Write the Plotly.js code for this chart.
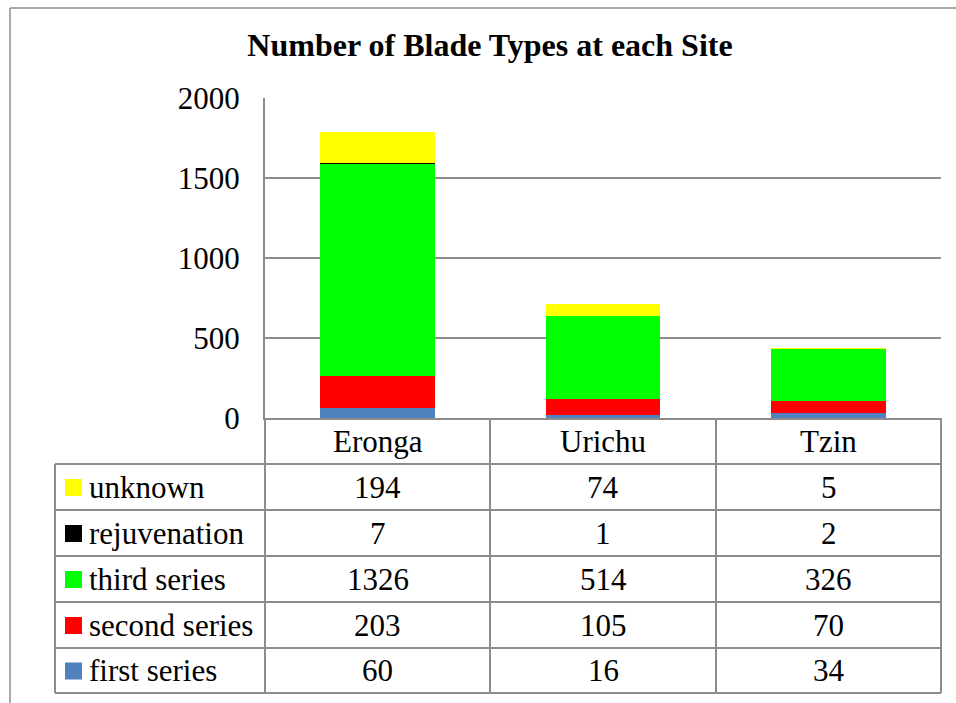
<!DOCTYPE html>
<html>
<head>
<meta charset="utf-8">
<script src="https://cdn.plot.ly/plotly-3.0.1.min.js"></script>
<style>html,body{margin:0;padding:0;background:#fff;}#chart{width:956px;height:703px;}</style>
</head>
<body>
<div id="chart"></div>
<script>
const sites = ['Eronga', 'Urichu', 'Tzin'];
const seriesNames = ['first series', 'second series', 'third series', 'rejuvenation', 'unknown'];
const firstSeries = [60, 16, 34];
const secondSeries = [203, 105, 70];
const thirdSeries = [1326, 514, 326];
const rejuvenation = [7, 1, 2];
const unknown = [194, 74, 5];
const seriesColors = ['#4F81BD', '#FF0000', '#00FF00', '#000000', '#FFFF00'];
const yTicks = [0, 500, 1000, 1500, 2000];

const seriesValues = [firstSeries, secondSeries, thirdSeries, rejuvenation, unknown];

const traces = seriesNames.map((name, i) => ({
  type: 'bar',
  name: name,
  x: sites,
  y: seriesValues[i],
  marker: {color: seriesColors[i], line: {width: 0}},
  showlegend: false,
  hoverinfo: 'name+y'
}));

// pixel -> paper helpers (plot area: x 265..941, y 98..418)
const L = 265, R = 941, T = 98, B = 418;
const px = p => (p - L) / (R - L);
const py = p => (B - p) / (B - T);

const gridColor = '#8c8c8c';
const shapes = [];
const annotations = [];
const serif = 'Liberation Serif, Times New Roman, serif';
const FS = 31;

// outer chart border (left & top visible)
shapes.push({type: 'line', xref: 'paper', yref: 'paper', x0: px(10), x1: px(970), y0: py(8), y1: py(8), line: {color: '#8c8c8c', width: 1.5}});
shapes.push({type: 'line', xref: 'paper', yref: 'paper', x0: px(10), x1: px(10), y0: py(8), y1: py(720), line: {color: '#8c8c8c', width: 1.5}});

// table geometry
const rowTops = [418, 464, 510, 556, 602, 648, 693];
const colX = [265, 490, 716, 941];
const tableLeft = 55;

for (let r = 1; r < rowTops.length; r++) {
  shapes.push({type: 'line', xref: 'paper', yref: 'paper', x0: px(tableLeft), x1: px(R), y0: py(rowTops[r]), y1: py(rowTops[r]), line: {color: gridColor, width: 2}});
}
colX.forEach(x => {
  shapes.push({type: 'line', xref: 'paper', yref: 'paper', x0: px(x), x1: px(x), y0: py(418), y1: py(693), line: {color: gridColor, width: 2}});
});
shapes.push({type: 'line', xref: 'paper', yref: 'paper', x0: px(tableLeft), x1: px(tableLeft), y0: py(464), y1: py(693), line: {color: gridColor, width: 2}});

// header: site names
sites.forEach((s, c) => {
  annotations.push({xref: 'paper', yref: 'paper', x: px((colX[c] + colX[c + 1]) / 2), y: py(441), text: s, showarrow: false, xanchor: 'center', yanchor: 'middle', font: {family: serif, size: FS, color: '#000'}});
});

// table rows: top to bottom = unknown, rejuvenation, third, second, first
const rowOrder = [4, 3, 2, 1, 0];
rowOrder.forEach((si, r) => {
  const top = rowTops[r + 1], bot = rowTops[r + 2];
  const cy = (top + bot) / 2;
  shapes.push({type: 'rect', xref: 'paper', yref: 'paper', x0: px(65), x1: px(82), y0: py(cy - 8), y1: py(cy + 9), fillcolor: seriesColors[si], line: {width: 0}});
  annotations.push({xref: 'paper', yref: 'paper', x: px(87), y: py(cy), text: seriesNames[si], showarrow: false, xanchor: 'left', yanchor: 'middle', font: {family: serif, size: FS, color: '#000'}});
  seriesValues[si].forEach((v, c) => {
    annotations.push({xref: 'paper', yref: 'paper', x: px((colX[c] + colX[c + 1]) / 2), y: py(cy), text: String(v), showarrow: false, xanchor: 'center', yanchor: 'middle', font: {family: serif, size: FS, color: '#000'}});
  });
});

const layout = {
  width: 956, height: 703,
  margin: {l: L, r: 956 - R, t: T, b: 703 - B, pad: 0},
  paper_bgcolor: '#ffffff', plot_bgcolor: '#ffffff',
  barmode: 'stack',
  bargap: 0.49,
  title: {text: '<b>Number of Blade Types at each Site</b>', x: 490 / 956, xref: 'container', xanchor: 'center', y: 1 - 45 / 703, yref: 'container', yanchor: 'middle', font: {family: serif, size: 32, color: '#000'}},
  xaxis: {type: 'category', showticklabels: false, showgrid: false, showline: true, linecolor: gridColor, linewidth: 2, ticks: '', fixedrange: true},
  yaxis: {range: [0, 2000], tickvals: yTicks, ticktext: yTicks.map(String), showgrid: true, gridcolor: gridColor, gridwidth: 2, zeroline: false, showline: true, linecolor: gridColor, linewidth: 2, ticks: '', ticklabelstandoff: 17, tickfont: {family: serif, size: FS, color: '#000'}, fixedrange: true},
  shapes: shapes,
  annotations: annotations,
  showlegend: false
};

Plotly.newPlot('chart', traces, layout, {displayModeBar: false, staticPlot: true});
</script>
</body>
</html>
